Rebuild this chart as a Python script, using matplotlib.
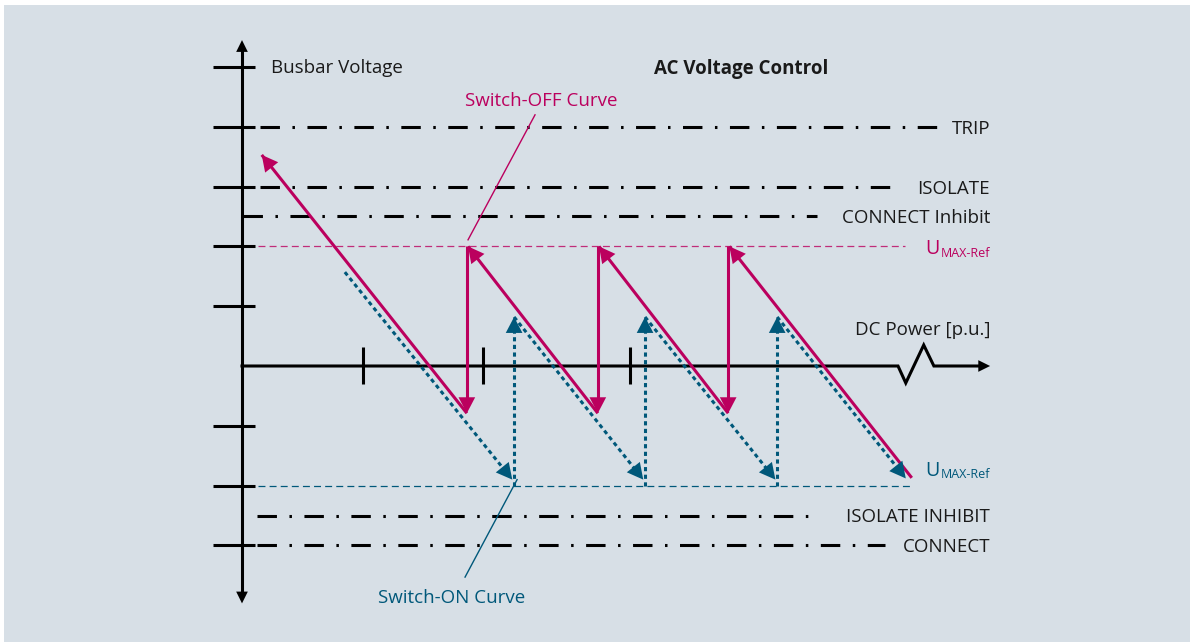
import matplotlib
matplotlib.use("Agg")
import matplotlib.pyplot as plt
from matplotlib.patches import Rectangle

plt.rcParams['font.family'] = ['Open Sans', 'DejaVu Sans']
plt.rcParams['lines.scale_dashes'] = False

# ---------------- data (diagram units: 1 unit = one voltage step) ----------------
level_names = ["TRIP", "ISOLATE", "CONNECT Inhibit", "ISOLATE INHIBIT", "CONNECT"]
level_values = [4.0, 3.0, 2.5, -2.5, -3.0]
level_starts = [0.30, 0.30, 0.02, 0.25, 0.25]
level_ends = [11.67, 10.95, 9.62, 9.67, 10.75]

umax_off = 2.0          # Switch-OFF reference (magenta)
umax_on = -2.0          # Switch-ON reference (teal)
umax_off_end = 11.09
umax_on_end = 11.17

y_ticks = [5, 4, 3, 2, 1, -1, -2, -3]
x_ticks = [2.02, 4.03, 6.49]

# Switch-OFF curve: diagonals (start -> arrow tip) and vertical drops
off_diag_start_x = [3.76, 5.95, 8.13, 11.20]
off_diag_start_y = [-0.79, -0.79, -0.79, -1.87]
off_diag_tip_x = [0.33, 3.78, 5.97, 8.15]
off_diag_tip_y = [3.53, 2.00, 2.00, 2.00]
off_drop_x = [3.76, 5.95, 8.13]
off_drop_bottom = -0.79

# Switch-ON curve: diagonals (start -> arrow tip) and vertical rises
on_diag_start_x = [1.72, 4.55, 6.74, 8.95]
on_diag_start_y = [1.57, 0.82, 0.82, 0.82]
on_diag_tip_x = [4.52, 6.71, 8.92, 11.10]
on_diag_tip_y = [-1.90, -1.90, -1.90, -1.88]
on_rise_x = [4.55, 6.74, 8.95]
on_rise_top = 0.82

# x-axis break (zigzag)
zig_x = [0.0, 10.97, 11.10, 11.40, 11.57, 12.40]
zig_y = [0.0, 0.0, -0.284, 0.351, 0.0, 0.0]

# ---------------- style ----------------
BG = "#d7dfe6"
MAG = "#bb005e"
TEAL = "#00587a"
BLK = "#000000"
TXT = "#1a1a1a"
FS = 13.5

U = 59.8          # pixels per unit
OX, OY = 242, 366  # origin in pixels
W, H = 1190, 642
BASE = 7.0 / U    # baseline offset below a line for centred caps

fig = plt.figure(figsize=(W / 100, H / 100), dpi=100)
fig.patch.set_facecolor("white")
ax = fig.add_axes([0, 0, 1, 1])
ax.set_xlim(-OX / U, (W - OX) / U)
ax.set_ylim((OY - H) / U, OY / U)
ax.axis("off")
ax.add_patch(Rectangle((-OX / U + 4 / U, (OY - H) / U), (W - 4) / U, (H - 5) / U,
                       facecolor=BG, edgecolor="none", zorder=0))

LW = 2.2
dashdot = (0, (14.0, 9.0, 1.8, 9.0))


def head(x0, y0, x1, y1, color, hl=1.0, hw=0.55):
    ax.annotate("", xy=(x1, y1), xytext=(x0, y0),
                arrowprops=dict(arrowstyle=f"-|>,head_length={hl},head_width={hw}",
                                color=color, lw=0, shrinkA=0, shrinkB=0),
                zorder=6)


# axes
ax.plot([0, 0], [-3.85, 5.3], color=BLK, lw=LW, solid_capstyle="butt", zorder=4)
head(0, 5.0, 0, 5.45, BLK, hl=0.85, hw=0.42)
head(0, -3.5, 0, -3.97, BLK, hl=0.85, hw=0.42)
ax.plot(zig_x, zig_y, color=BLK, lw=LW, solid_joinstyle="miter", zorder=4)
head(12.0, 0, 12.51, 0, BLK, hl=0.85, hw=0.42)

for yt in y_ticks:
    ax.plot([-0.485, 0.217], [yt, yt], color=BLK, lw=LW, solid_capstyle="butt", zorder=4)
for xt in x_ticks:
    ax.plot([xt, xt], [-0.30, 0.31], color=BLK, lw=LW, solid_capstyle="butt", zorder=4)

# level lines
for name, v, s, e in zip(level_names, level_values, level_starts, level_ends):
    ax.plot([s, e], [v, v], color=BLK, lw=LW, linestyle=dashdot, zorder=3)
    ax.text(12.51, v - BASE, name, ha="right", va="baseline", fontsize=FS, color=TXT)

# reference lines
ax.plot([0.27, umax_off_end], [umax_off, umax_off], color=MAG, lw=0.9,
        linestyle=(0, (5.0, 3.0)), alpha=0.8, zorder=3)
ax.plot([0.27, umax_on_end], [umax_on, umax_on], color=TEAL, lw=0.9,
        linestyle=(0, (5.0, 3.0)), zorder=3)
for yv, col, ub, sb in [(umax_off, MAG, 8.0, 11.0), (umax_on, TEAL, -10.0, -8.0)]:
    ax.text(11.42, yv - ub / U, "U", ha="left", va="baseline", fontsize=14.2, color=col)
    ax.text(12.51, yv - sb / U, "MAX-Ref", ha="right", va="baseline", fontsize=9.0, color=col)

# Switch-OFF curve
for x0, y0, x1, y1 in zip(off_diag_start_x, off_diag_start_y, off_diag_tip_x, off_diag_tip_y):
    ax.plot([x0, x1], [y0, y1], color=MAG, lw=LW, solid_capstyle="butt", zorder=5)
    dx, dy = x1 - x0, y1 - y0
    L = (dx ** 2 + dy ** 2) ** 0.5
    head(x1 - dx / L * 0.4, y1 - dy / L * 0.4, x1, y1, MAG, hl=1.15, hw=0.6)
for xd in off_drop_x:
    ax.plot([xd, xd], [umax_off, off_drop_bottom + 0.2], color=MAG, lw=LW,
            solid_capstyle="butt", zorder=5)
    head(xd, off_drop_bottom + 0.4, xd, off_drop_bottom, MAG, hl=1.15, hw=0.6)

# Switch-ON curve
for x0, y0, x1, y1 in zip(on_diag_start_x, on_diag_start_y, on_diag_tip_x, on_diag_tip_y):
    dx, dy = x1 - x0, y1 - y0
    L = (dx ** 2 + dy ** 2) ** 0.5
    ax.plot([x0, x1 - dx / L * 0.2], [y0, y1 - dy / L * 0.2], color=TEAL, lw=LW,
            linestyle=(0, (3.0, 2.5)), zorder=5)
    head(x1 - dx / L * 0.4, y1 - dy / L * 0.4, x1, y1, TEAL, hl=1.15, hw=0.6)
for xr in on_rise_x:
    ax.plot([xr, xr], [umax_on, on_rise_top - 0.2], color=TEAL, lw=LW,
            linestyle=(0, (3.0, 2.5)), zorder=5)
    head(xr, on_rise_top - 0.4, xr, on_rise_top, TEAL, hl=1.15, hw=0.6)

# callouts
ax.plot([4.90, 3.78], [4.20, 2.11], color=MAG, lw=1.0, zorder=5)
ax.plot([4.60, 3.73], [-1.90, -3.53], color=TEAL, lw=1.0, zorder=5)

# texts (baselines measured in pixels from the origin)
ax.text(0.485, (OY - 73) / U, "Busbar Voltage", ha="left", va="baseline", fontsize=FS, color=TXT)
ax.text(8.34, (OY - 74) / U, "AC Voltage Control", ha="center", va="baseline", fontsize=FS,
        fontweight="bold", color=TXT)
ax.text(5.0, (OY - 106) / U, "Switch-OFF Curve", ha="center", va="baseline", fontsize=FS, color=MAG)
ax.text(12.51, (OY - 335) / U, "DC Power [p.u.]", ha="right", va="baseline", fontsize=FS, color=TXT)
ax.text(3.51, (OY - 603) / U, "Switch-ON Curve", ha="center", va="baseline", fontsize=FS, color=TEAL)

fig.savefig("out.png", dpi=100, facecolor=fig.get_facecolor())
